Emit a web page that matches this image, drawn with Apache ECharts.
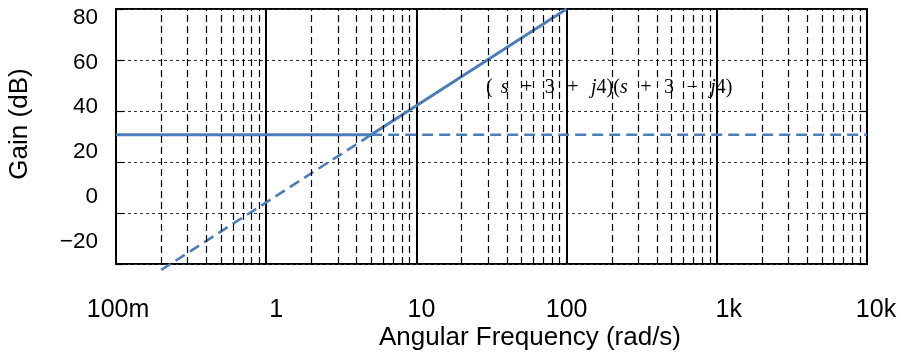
<!DOCTYPE html>
<html>
<head>
<meta charset="utf-8">
<script src="https://cdn.jsdelivr.net/npm/echarts@6/dist/echarts.min.js"></script>
<style>
  html, body { margin: 0; padding: 0; background: #fff; }
  #chart { width: 901px; height: 357px; }
</style>
</head>
<body>
<div id="chart"></div>
<script>
// ---- data ----
const xDecades = [0.1, 1, 10, 100, 1000, 10000];
const xTickLabels = ['100m', '1', '10', '100', '1k', '10k'];
const yTickValues = [-20, 0, 20, 40, 60, 80];
const dcGainDb = 27.96;
const cornerFreq = 5;
const flatSolid = [[0.1, 27.96], [5, 27.96]];
const riseSolid = [[5, 27.96], [100, 80]];
const flatDashed = [[5, 27.96], [10000, 27.96]];
const riseDashed = [[0.2, -27.96], [5, 27.96]];
const annotationTokens = ['(', 's', '+', '3', '+', 'j', '4)(', 's', '+', '3', '\u2212', 'j', '4)'];
const xTitle = 'Angular Frequency (rad/s)';
const yTitle = 'Gain (dB)';

// ---- styling helpers ----
const xLabelNudge = [2, 10, 5, 0, 12, 9];
const minorLines = [];
for (let i = 0; i < xDecades.length - 1; i++) {
  for (let m = 2; m <= 9; m++) minorLines.push({ xAxis: +(xDecades[i] * m).toPrecision(6) });
}
const rich = {};
xLabelNudge.forEach((n, i) => {
  rich['n' + i] = { padding: [0, 0, 0, 2 * n], fontSize: 25, fontFamily: 'Liberation Sans', color: '#000', lineHeight: 25 };
});

const blue = '#4a7ebb';
const sans = 'Liberation Sans';

const annRich = {
  p: { fontFamily: 'Liberation Serif', fontSize: 20, color: '#222' },
  i: { fontFamily: 'Liberation Serif', fontSize: 20, fontStyle: 'italic', color: '#222' },
  g: { fontFamily: 'Liberation Serif', fontSize: 20, width: 12.5 },
  h: { fontFamily: 'Liberation Serif', fontSize: 20, width: 8 }
};
const spaced = (function () {
  const parts = [];
  annotationTokens.forEach((t, k) => {
    const italic = (t === 's' || t === 'j');
    parts.push('{' + (italic ? 'i' : 'p') + '|' + t + '}');
    const next = annotationTokens[k + 1];
    if (next === undefined) return;
    if (t === 'j') return;
    if (t === '4)(' || next === '4)(' || next === '4)') return;
    if (t === '(') { parts.push('{h| }'); return; }
    parts.push('{g| }');
  });
  return parts.join('');
})();

const chart = echarts.init(document.getElementById('chart'), null, { renderer: 'canvas' });
const option = {
  animation: false,
  grid: {
    left: 116, top: 9, width: 751, height: 255,
    show: true, borderColor: '#000', borderWidth: 2, backgroundColor: 'transparent'
  },
  xAxis: [{
    type: 'log', logBase: 10, min: 0.1, max: 10000, position: 'bottom',
    axisLine: { show: false },
    axisTick: { show: false },
    splitLine: { show: true, lineStyle: { color: '#000', width: 2, type: 'solid' } },
    axisLabel: {
      margin: 34,
      color: '#000', fontSize: 25, fontFamily: sans, lineHeight: 25,
      formatter: function (v) {
        const idx = Math.round(Math.log10(v)) + 1;
        return '{n' + idx + '|' + xTickLabels[idx] + '}';
      },
      rich: rich
    }
  }],
  yAxis: [
    {
      type: 'value', min: 0, max: 5, interval: 1, position: 'left',
      axisLine: { show: false },
      axisLabel: { show: false },
      axisTick: { show: true, inside: true, length: 8, lineStyle: { color: '#000', width: 1.2 } },
      splitLine: { show: true, lineStyle: { color: '#333', width: 1, type: [3, 3] } }
    },
    {
      type: 'value', min: 0, max: 5, interval: 1, position: 'right',
      axisLine: { show: false },
      axisLabel: { show: false },
      axisTick: { show: true, inside: true, length: 8, lineStyle: { color: '#000', width: 1.2 } },
      splitLine: { show: false }
    },
    {
      type: 'value', min: -30, max: 83.9, position: 'left',
      axisLine: { show: false },
      axisTick: { show: false },
      splitLine: { show: false },
      axisLabel: {
        customValues: yTickValues,
        margin: 18, color: '#000', fontSize: 22.5, fontFamily: sans,
        formatter: function (v) { return String(v).replace('-', '\u2212'); }
      }
    },
    {
      type: 'value', min: -25.5, max: 80, position: 'left', show: false,
      splitLine: { show: false }
    }
  ],
  series: [
    {
      type: 'line', xAxisIndex: 0, yAxisIndex: 3, data: riseDashed, clip: false,
      symbol: 'none', lineStyle: { color: blue, width: 2.6, type: [11, 6] },
      markLine: {
        silent: true, symbol: ['none', 'none'], label: { show: false },
        lineStyle: { color: '#000', width: 1.2, type: [7, 4] },
        data: minorLines
      }
    },
    {
      type: 'line', xAxisIndex: 0, yAxisIndex: 3, data: flatDashed, clip: false,
      symbol: 'none', lineStyle: { color: blue, width: 2.6, type: [11, 6] }
    },
    {
      type: 'line', xAxisIndex: 0, yAxisIndex: 3, data: flatSolid, clip: false,
      symbol: 'none', lineStyle: { color: blue, width: 3 }
    },
    {
      type: 'line', xAxisIndex: 0, yAxisIndex: 3, data: riseSolid, clip: false,
      symbol: 'none', lineStyle: { color: blue, width: 3 }
    }
  ],
  graphic: [
    {
      type: 'text', x: 19.5, y: 124, rotation: Math.PI / 2,
      style: { text: yTitle, fontSize: 26, fontFamily: sans, fill: '#000', align: 'center', verticalAlign: 'middle' }
    },
    {
      type: 'text', x: 530, y: 338,
      style: { text: xTitle, fontSize: 26, fontFamily: sans, fill: '#000', align: 'center', verticalAlign: 'middle' }
    },
    {
      type: 'text', x: 486, y: 88, z: 10,
      style: { text: spaced, rich: annRich, align: 'left', verticalAlign: 'middle', fontSize: 20, fontFamily: 'Liberation Serif' }
    }
  ]
};
chart.setOption(option);
</script>
</body>
</html>
